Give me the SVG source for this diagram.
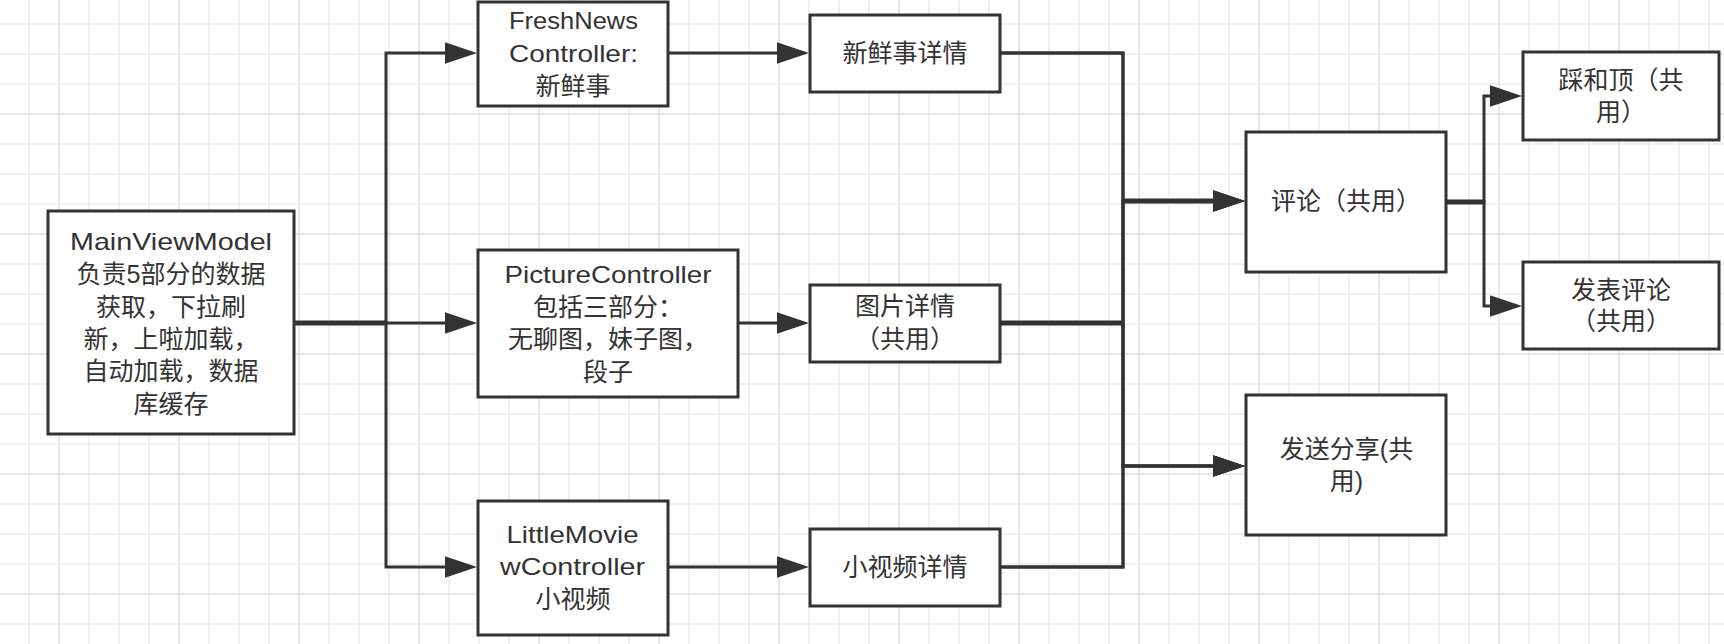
<svg xmlns="http://www.w3.org/2000/svg" width="1724" height="644" viewBox="0 0 1724 644">
<defs>
<pattern id="gmin" patternUnits="userSpaceOnUse" x="0" y="0" width="30" height="30">
<rect x="28" y="0" width="2" height="30" fill="#f0f0f0"/>
<rect x="0" y="23" width="30" height="2" fill="#f0f0f0"/>
</pattern>
<pattern id="gmaj" patternUnits="userSpaceOnUse" x="0" y="0" width="120" height="120">
<rect x="58" y="0" width="2" height="120" fill="#e6e6e6"/>
<rect x="0" y="113" width="120" height="2" fill="#e6e6e6"/>
</pattern>
<marker id="arr" markerUnits="userSpaceOnUse" markerWidth="32" markerHeight="22" refX="0" refY="10" orient="auto" viewBox="0 0 30 20">
<path d="M0,0 L30,10 L0,20 Z" fill="#333"/>
</marker>
<style>
.box{fill:#fff;stroke:#333;stroke-width:3}
.t{font-family:"Liberation Sans","Noto Sans CJK SC",sans-serif;font-size:25px;fill:#333;text-anchor:middle;dominant-baseline:central}
.l{font-size:24px}
.c{fill:none;stroke:#333;stroke-width:3;marker-end:url(#arr)}
.k{fill:none;stroke:#333;stroke-width:5}
</style>
</defs>
<rect width="1724" height="644" fill="#fff"/>
<rect width="1724" height="644" fill="url(#gmin)"/>
<rect width="1724" height="644" fill="url(#gmaj)"/>

<g id="connectors">
<path class="c" d="M294,323 H386 V53 H445"/>
<path class="c" d="M294,323 H445"/>
<path class="c" d="M294,323 H386 V567 H445"/>
<path class="c" d="M668,53 H777"/>
<path class="c" d="M738,323 H777"/>
<path class="c" d="M668,567 H777"/>
<path class="c" d="M1000,53 H1123 V201 H1213"/>
<path class="c" d="M1000,53 H1123 V466 H1213"/>
<path class="c" d="M1000,323 H1123 V201 H1213"/>
<path class="c" d="M1000,323 H1123 V466 H1213"/>
<path class="c" d="M1000,567 H1123 V201 H1213"/>
<path class="c" d="M1000,567 H1123 V466 H1213"/>
<path class="c" d="M1446,202 H1484 V96 H1490"/>
<path class="c" d="M1446,202 H1484 V306 H1490"/>
<path class="k" d="M294,323 H386"/>
<path class="k" d="M1000,323 H1123"/>
<path class="k" d="M1123,201 H1213"/>
<path class="k" d="M1446,202 H1484"/>
</g>

<g id="main">
<rect class="box" x="48" y="211" width="246" height="223"/>
<text class="t l" x="171" y="241.5" textLength="202" lengthAdjust="spacingAndGlyphs">MainViewModel</text>
<text class="t" x="171" y="274">负责5部分的数据</text>
<text class="t" x="171" y="306.5">获取，下拉刷</text>
<text class="t" x="171" y="338.5">新，上啦加载，</text>
<text class="t" x="171" y="371">自动加载，数据</text>
<text class="t" x="171" y="403.5">库缓存</text>
</g>

<g id="freshnews">
<rect class="box" x="478" y="2" width="190" height="104"/>
<text class="t l" x="573.5" y="20.5" textLength="129" lengthAdjust="spacingAndGlyphs">FreshNews</text>
<text class="t l" x="573.5" y="53" textLength="129" lengthAdjust="spacingAndGlyphs">Controller:</text>
<text class="t" x="573" y="85.5">新鲜事</text>
</g>

<g id="picture">
<rect class="box" x="478" y="250" width="260" height="147"/>
<text class="t l" x="608" y="274" textLength="207" lengthAdjust="spacingAndGlyphs">PictureController</text>
<text class="t" x="608" y="306.5">包括三部分：</text>
<text class="t" x="608" y="339">无聊图，妹子图，</text>
<text class="t" x="608" y="371.5">段子</text>
</g>

<g id="littlemovie">
<rect class="box" x="478" y="501" width="190" height="134"/>
<text class="t l" x="572.5" y="534" textLength="132" lengthAdjust="spacingAndGlyphs">LittleMovie</text>
<text class="t l" x="572.5" y="566.5" textLength="145" lengthAdjust="spacingAndGlyphs">wController</text>
<text class="t" x="573" y="599">小视频</text>
</g>

<g id="freshdetail">
<rect class="box" x="810" y="15" width="190" height="77"/>
<text class="t" x="905" y="53">新鲜事详情</text>
</g>

<g id="picdetail">
<rect class="box" x="810" y="285" width="190" height="77"/>
<text class="t" x="905" y="306">图片详情</text>
<text class="t" x="905" y="339">（共用）</text>
</g>

<g id="moviedetail">
<rect class="box" x="810" y="529" width="190" height="77"/>
<text class="t" x="905" y="567">小视频详情</text>
</g>

<g id="comment">
<rect class="box" x="1246" y="132" width="200" height="140"/>
<text class="t" x="1346" y="201">评论（共用）</text>
</g>

<g id="share">
<rect class="box" x="1246" y="395" width="200" height="140"/>
<text class="t" x="1346.5" y="449">发送分享(共</text>
<text class="t" x="1346.5" y="481">用)</text>
</g>

<g id="vote">
<rect class="box" x="1523" y="52" width="196" height="88"/>
<text class="t" x="1621" y="80">踩和顶（共</text>
<text class="t" x="1621" y="112">用）</text>
</g>

<g id="post">
<rect class="box" x="1523" y="262" width="196" height="87"/>
<text class="t" x="1621" y="290">发表评论</text>
<text class="t" x="1621" y="321">（共用）</text>
</g>
</svg>
